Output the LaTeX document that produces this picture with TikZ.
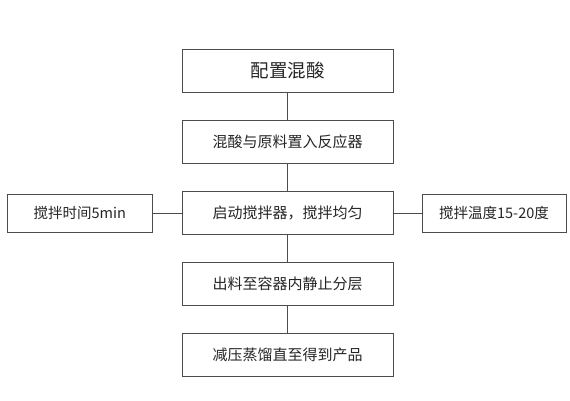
\documentclass[tikz,border=0pt]{standalone}
\usepackage{fontspec}
\setmainfont{Noto Sans CJK SC}
\begin{document}
\begin{tikzpicture}[x=1pt,y=-1pt,
  box/.style={draw=black!70,line width=0.9pt,minimum width=211pt,minimum height=43pt,inner sep=0pt,font=\fontsize{15}{15}\selectfont,text=black!85},
  sidebox/.style={draw=black!70,line width=0.9pt,minimum width=145pt,minimum height=38pt,inner sep=0pt,font=\fontsize{14.5}{14.5}\selectfont,text=black!85},
  conn/.style={draw=black!70,line width=0.9pt}]
\useasboundingbox[fill=white] (0,0) rectangle (570,400);
\node[box,font=\fontsize{18.5}{18.5}\selectfont] (b1) at (287.5,70.8) {配置混酸};
\node[box] (b2) at (287.5,141.6) {混酸与原料置入反应器};
\node[box] (b3) at (287.5,213) {启动搅拌器，搅拌均匀};
\node[box] (b4) at (287.5,283.8) {出料至容器内静止分层};
\node[box] (b5) at (287.5,355) {减压蒸馏直至得到产品};
\node[sidebox] (l) at (79.7,213) {搅拌时间5min\hspace{12pt}};
\node[sidebox,minimum width=144pt] (r) at (494,213) {搅拌温度15-20度};
\draw[conn] (b1) -- (b2);
\draw[conn] (b2) -- (b3);
\draw[conn] (b3) -- (b4);
\draw[conn] (b4) -- (b5);
\draw[conn] (l) -- (b3);
\draw[conn] (b3) -- (r);
\end{tikzpicture}
\end{document}
